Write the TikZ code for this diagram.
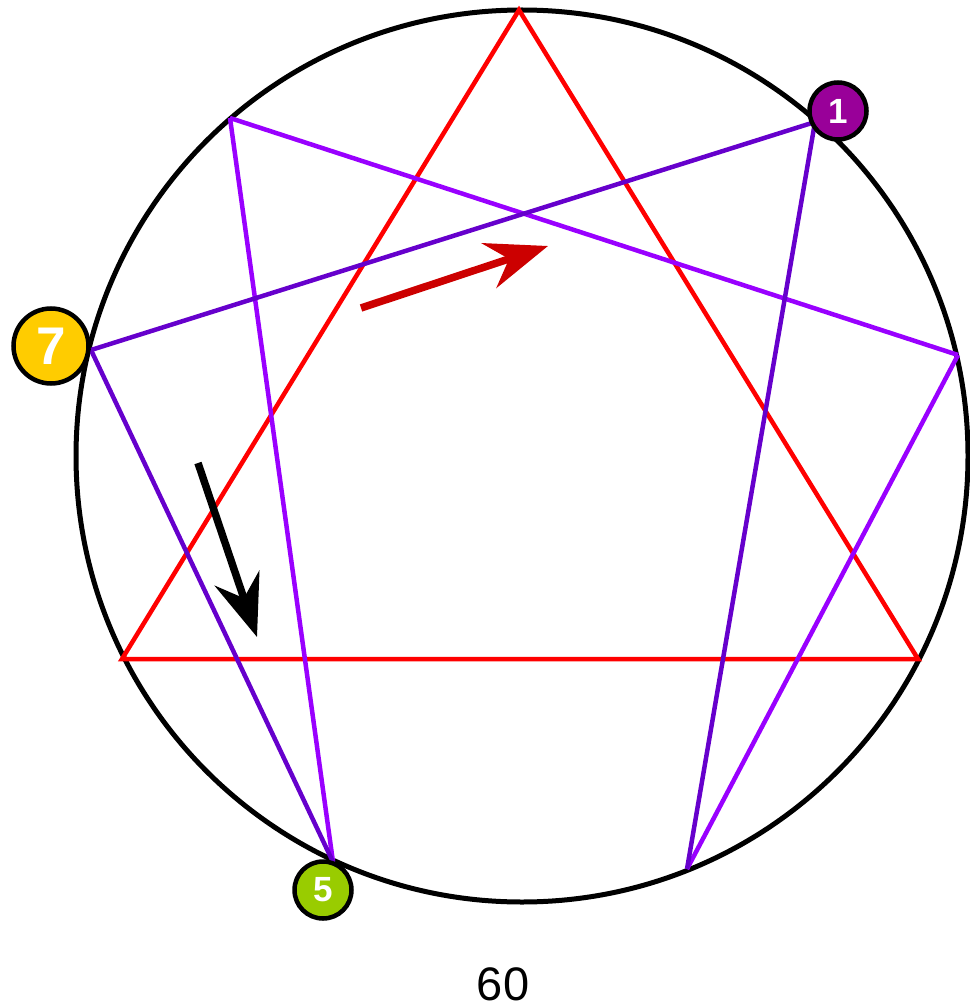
\documentclass[tikz,border=0pt]{standalone}
\usepackage{fontspec}
\setmainfont{Liberation Sans}
\usetikzlibrary{arrows.meta}
\definecolor{darkviolet}{HTML}{6600CC}
\definecolor{lightviolet}{HTML}{9900FF}
\definecolor{arrowred}{HTML}{CC0000}
\definecolor{numpurple}{HTML}{990099}
\definecolor{numyellow}{HTML}{FFCC00}
\definecolor{numgreen}{HTML}{99CC00}
\tikzset{
  outer/.style={draw=black, line width=5pt},
  tri/.style={draw=red, line width=4.5pt},
  dv/.style={draw=darkviolet, line width=4.5pt},
  lv/.style={draw=lightviolet, line width=4.5pt},
  numnode/.style={circle, draw=black, line width=4.5pt, text=white, inner sep=0pt, font=\bfseries},
  bigarrow/.style={line width=7.5pt, -{Stealth[length=62pt, width=47pt, inset=21pt]}}
}
\begin{document}
\begin{tikzpicture}[x=1pt, y=-1pt]
\useasboundingbox (0,0) rectangle (969,1008);
\draw[outer] (522,456) circle (446);
% points
\coordinate (p9) at (519,10);
\coordinate (p3) at (122,659);
\coordinate (p6) at (918,659);
\coordinate (p1) at (815,122);
\coordinate (p7) at (91,350);
\coordinate (p5) at (333,862);
\coordinate (p8) at (230,118);
\coordinate (p2) at (958,355);
\coordinate (p4) at (687,869);
% red triangle
\draw[tri, line join=miter] (p9) -- (p6) -- (p3) -- cycle;
% light violet
\draw[lv] (p8) -- (p2);
\draw[lv] (p2) -- (p4);
\draw[lv] (p8) -- (p5);
% dark violet
\draw[dv] (p1) -- (p7);
\draw[dv] (p7) -- (p5);
\draw[dv] (p1) -- (p4);
% arrows
\coordinate (ra) at (361,308);
\coordinate (rb) at (548,246);
\draw[bigarrow, draw=arrowred, fill=arrowred] (ra) -- (rb);
\coordinate (ba) at (198,463);
\coordinate (bb) at (257,637);
\draw[bigarrow, draw=black, fill=black] (ba) -- (bb);
% number nodes
\node[numnode, fill=numpurple, minimum size=57pt, font=\bfseries\fontsize{35}{35}\selectfont] (n1) at (838,111) {1};
\node[numnode, fill=numyellow, minimum size=75pt, font=\bfseries\fontsize{53}{53}\selectfont] (n7) at (51,346) {7};
\node[numnode, fill=numgreen, minimum size=57pt, font=\bfseries\fontsize{35}{35}\selectfont] (n5) at (323,890) {5};
\node[font=\fontsize{47}{47}\selectfont, anchor=base, inner sep=0pt] (lbl) at (503,1000) {60};
\end{tikzpicture}
\end{document}
